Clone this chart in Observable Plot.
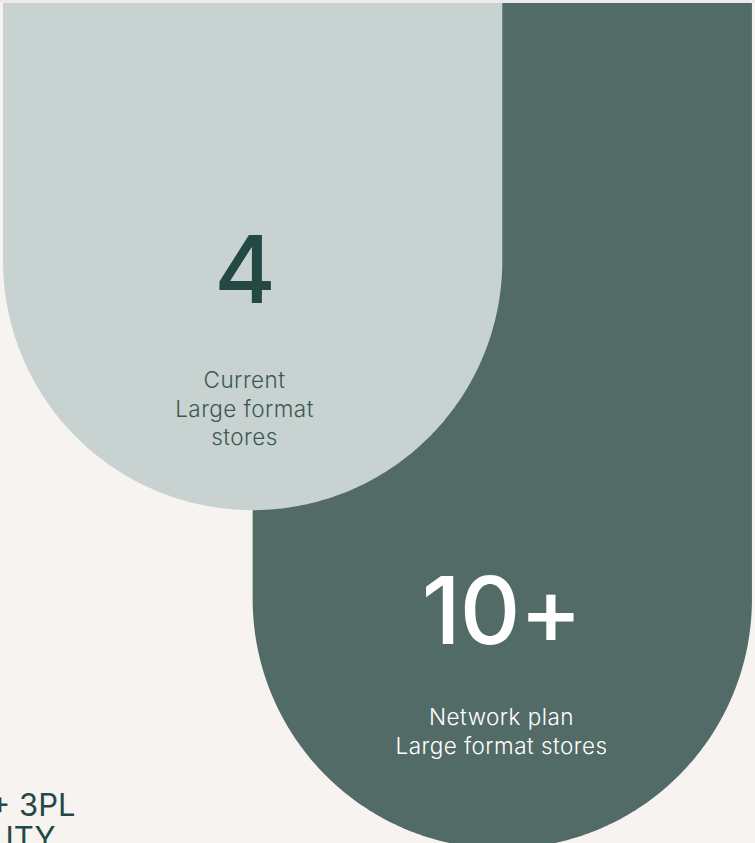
<!DOCTYPE html>
<html>
<head>
<meta charset="utf-8">
<script src="https://cdn.jsdelivr.net/npm/d3@7"></script>
<script src="https://cdn.jsdelivr.net/npm/@observablehq/plot@0.6"></script>
<style>
  html, body { margin: 0; padding: 0; background: #f7f3f0; overflow: hidden; }
  .lbl text { letter-spacing: 0.45px; }
  .num text { letter-spacing: -1px; }
</style>
</head>
<body>
<div id="chart"></div>
<script>
// Data
const storeValues = ["4", "10+"];
const storeLabels = ["Current\nLarge format\nstores", "Network plan\nLarge format stores"];
const sideLines = ["+ 3PL", "ITY"];

const W = 755, H = 843;
const shapeFill = ["#c8d2d0", "#526b67"];
const numberFill = ["#244843", "#ffffff"];
const labelFill = ["#3b5a55", "#ffffff"];

// Layout geometry (computed, not data)
const R = 249.65;
const layout = storeValues.map((v, i) => {
  const left = 3 + i * R;
  const cx = left + R;
  const cy = i === 0 ? 260.5 : 599;
  const tx = i === 0 ? 244 : 501;
  return {i, value: v, label: storeLabels[i], left, right: left + 2 * R, cx, cy, tx};
});
// U-shape outline: flat top, semicircular bottom
function uShape(d) {
  const n = 240;
  return d3.range(n + 1).map(k => {
    const a = Math.PI * k / n;
    return {x: d.cx - R * Math.cos(a), y1: 3, y2: d.cy + R * Math.sin(a)};
  });
}
const drawOrder = [layout[1], layout[0]];
const side = sideLines.map((t, i) => ({t, i}));

const chart = Plot.plot({
  width: W,
  height: H,
  margin: 0,
  x: {type: "linear", domain: [0, W], range: [0, W], axis: null},
  y: {type: "linear", domain: [0, H], range: [0, H], axis: null},
  style: {background: "#f7f3f0", overflow: "hidden"},
  marks: [
    Plot.rect([0], {x1: 0, x2: W, y1: 0, y2: 3, fill: "#ecebe9"}),
    ...drawOrder.map(d => Plot.area(uShape(d), {x1: "x", y1: "y1", y2: "y2", fill: shapeFill[d.i], curve: "linear"})),
    ...layout.map(d => Plot.text([d], {
      x: "tx", y: d => d.cy + (d.i === 0 ? 42 : 44),
      text: "value", lineAnchor: "bottom", textAnchor: "middle",
      fontSize: 94, fontFamily: "Inter", fontWeight: 500, fill: numberFill[d.i],
      className: "num"
    })),
    ...layout.map(d => Plot.text([d], {
      x: "tx", y: d => d.cy + (d.i === 0 ? 107.5 : 106),
      text: "label", lineAnchor: "top", textAnchor: "middle", lineHeight: 1.25,
      fontSize: 22.5, fontFamily: "Inter", fontWeight: 300, fill: labelFill[d.i],
      className: "lbl"
    })),
    Plot.text(side, {
      x: d => d.i === 0 ? 75 : 55,
      y: d => 815 + d.i * 33,
      text: "t", textAnchor: "end", lineAnchor: "bottom",
      fontSize: 31, fontFamily: "Inter", fontWeight: 400, fill: "#244843"
    })
  ]
});
document.getElementById("chart").appendChild(chart);
</script>
</body>
</html>
